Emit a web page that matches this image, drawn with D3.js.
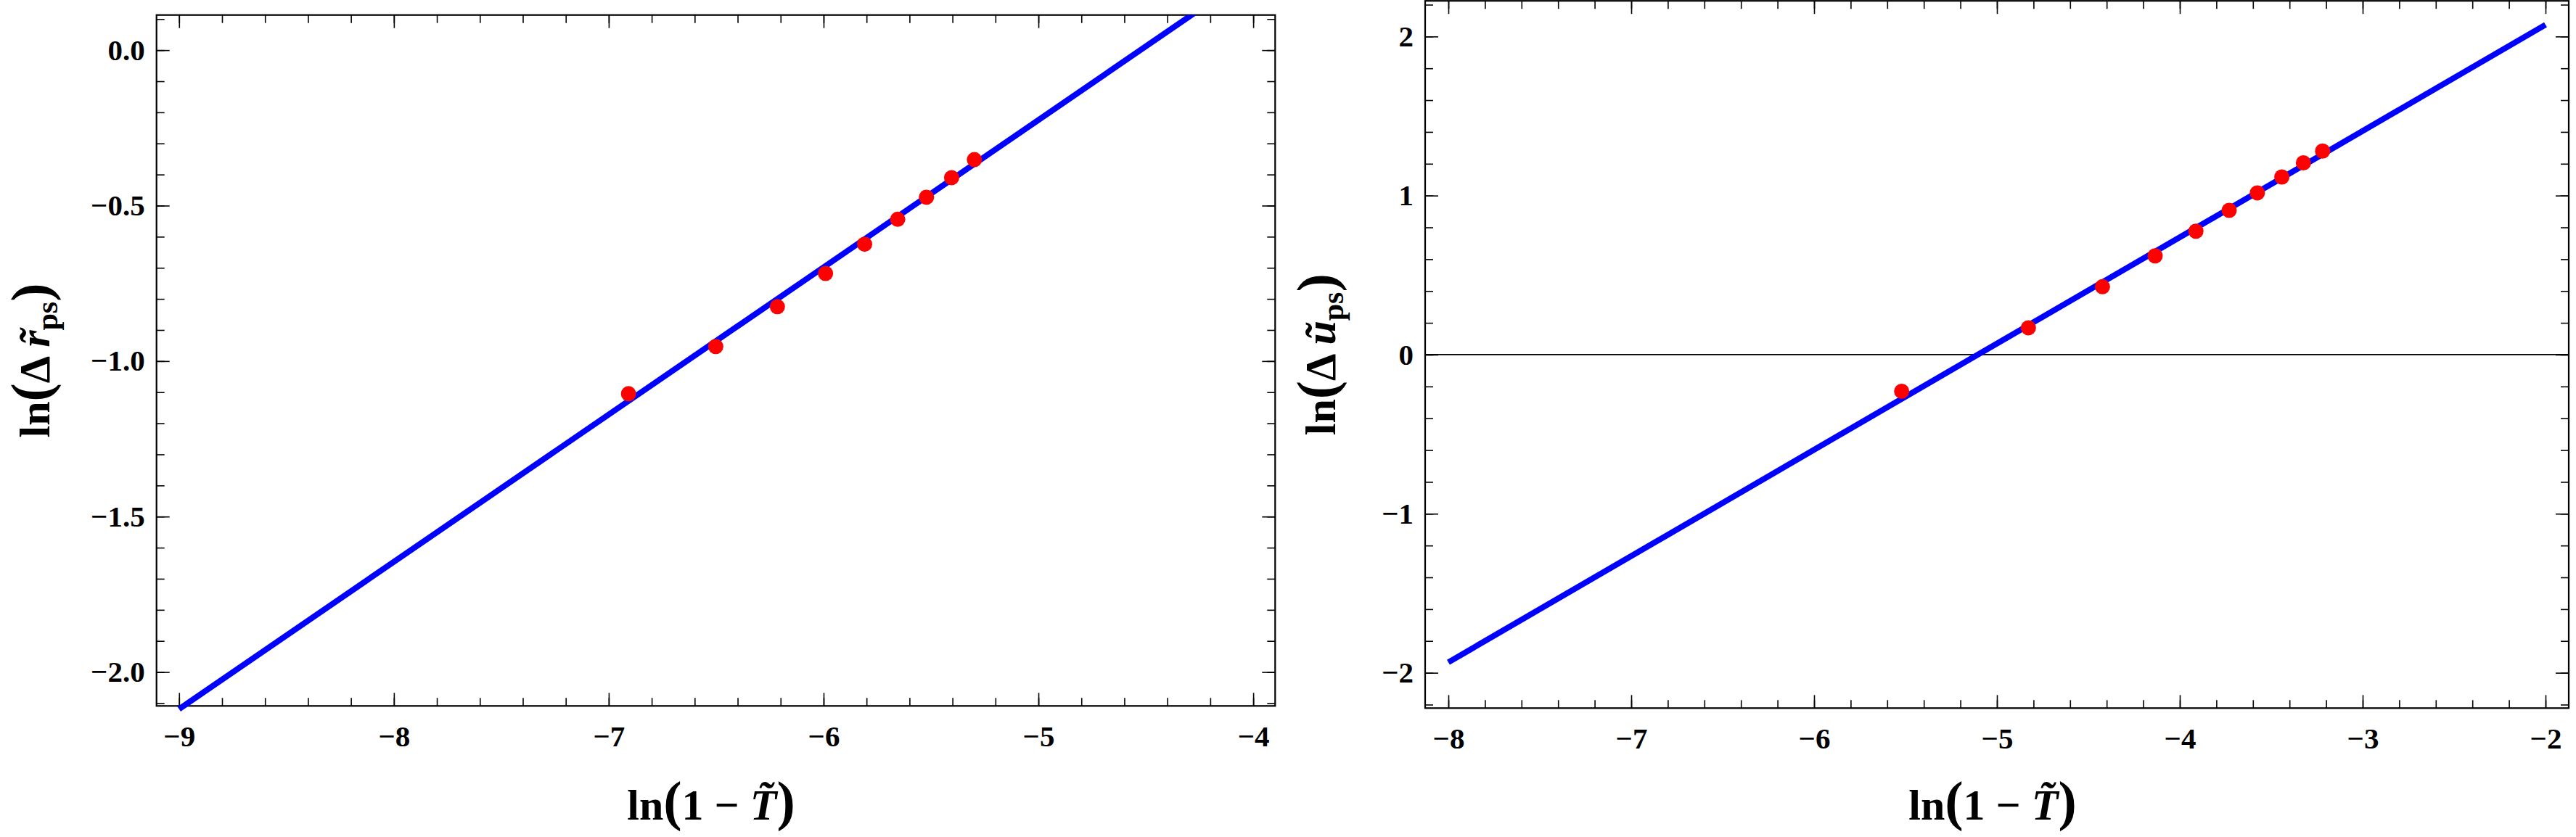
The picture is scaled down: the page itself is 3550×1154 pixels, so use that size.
<!DOCTYPE html>
<html>
<head>
<meta charset="utf-8">
<script src="https://cdn.jsdelivr.net/npm/d3@7"></script>
<style>
  html, body { margin: 0; padding: 0; background: #fff; }
  svg { display: block; }
  text { font-family: "Liberation Serif", "Times New Roman", serif; font-weight: bold; }
</style>
</head>
<body>
<svg id="chart" width="3550" height="1154"></svg>
<script>
// left panel: ln(Δ r_ps) against ln(1 - T)
const leftX = [-6.908, -6.502, -6.215, -5.991, -5.809, -5.655, -5.521, -5.404, -5.298];
const leftY = [-1.105, -0.953, -0.825, -0.718, -0.624, -0.544, -0.473, -0.410, -0.352];
const leftFitX = [-9.0, -4.0];
const leftFitY = [-2.119, 0.249];
const leftXTicks = [-9, -8, -7, -6, -5, -4];
const leftYTicks = [-2.0, -1.5, -1.0, -0.5, 0.0];

// right panel: ln(Δ u_ps) against ln(1 - T)
const rightX = [-5.521, -4.828, -4.423, -4.135, -3.912, -3.730, -3.576, -3.442, -3.324, -3.219];
const rightY = [-0.23, 0.169, 0.427, 0.621, 0.776, 0.907, 1.017, 1.117, 1.206, 1.28];
const rightFitX = [-8.0, -2.0];
const rightFitY = [-1.934, 2.074];
const rightXTicks = [-8, -7, -6, -5, -4, -3, -2];
const rightYTicks = [-2, -1, 0, 1, 2];

const svg = d3.select("#chart");
svg.append("rect").attr("width", 3550).attr("height", 1154).attr("fill", "#fff");

// minor tick positions that fall inside the frame
function minors(domain, step) {
  const lo = Math.ceil(domain[0] / step - 1e-6), hi = Math.floor(domain[1] / step + 1e-6);
  return d3.range(lo, hi + 1).map(i => +(i * step).toFixed(4));
}

function drawPanel(p) {
  const x = d3.scaleLinear().domain(p.xDomain).range([p.left, p.right]);
  const y = d3.scaleLinear().domain(p.yDomain).range([p.bottom, p.top]);
  const g = svg.append("g");
  const xMinor = minors(p.xDomain, 0.2);
  const yMinor = minors(p.yDomain, p.yStep);

  // ticks on all four sides, pointing inward
  const sides = [
    {make: () => d3.axisBottom(x), tr: `translate(0,${p.bottom})`, major: p.xTicks, minor: xMinor, fmt: p.xFmt, isX: true},
    {make: () => d3.axisTop(x), tr: `translate(0,${p.top})`, major: p.xTicks, minor: xMinor, fmt: null, isX: true},
    {make: () => d3.axisLeft(y), tr: `translate(${p.left},0)`, major: p.yTicks, minor: yMinor, fmt: p.yFmt, isX: false},
    {make: () => d3.axisRight(y), tr: `translate(${p.right},0)`, major: p.yTicks, minor: yMinor, fmt: null, isX: false}
  ];
  sides.forEach(a => {
    const minorAx = a.make().tickValues(a.minor).tickFormat("").tickSizeInner(-11).tickSizeOuter(0);
    const gm = g.append("g").attr("transform", a.tr).call(minorAx);
    gm.select(".domain").remove();
    gm.selectAll("line").attr("stroke", "#000").attr("stroke-width", 1.6);

    const majorAx = a.make().tickValues(a.major).tickSizeInner(-18).tickSizeOuter(0)
      .tickPadding(a.isX ? 27 : 16)
      .tickFormat(a.fmt ? a.fmt : "");
    const ga = g.append("g").attr("transform", a.tr).call(majorAx);
    ga.select(".domain").remove();
    ga.selectAll("line").attr("stroke", "#000").attr("stroke-width", 1.6);
    ga.attr("font-size", 41).attr("font-family", '"Liberation Serif", serif');
    ga.selectAll("text").attr("fill", "#000").style("font-weight", "bold");
  });

  g.append("rect")
    .attr("x", p.left).attr("y", p.top)
    .attr("width", p.right - p.left).attr("height", p.bottom - p.top)
    .attr("fill", "none").attr("stroke", "#000").attr("stroke-width", 2.2);

  if (p.zeroLine) {
    g.append("line")
      .attr("x1", p.left).attr("x2", p.right)
      .attr("y1", y(0)).attr("y2", y(0))
      .attr("stroke", "#000").attr("stroke-width", 1.8);
  }

  const clipId = "clip" + p.id;
  svg.append("clipPath").attr("id", clipId).append("rect")
    .attr("x", p.left).attr("y", p.top)
    .attr("width", p.right - p.left).attr("height", p.bottom - p.top + 30);

  const fit = p.fitX.map((v, i) => [v, p.fitY[i]]);
  g.append("path")
    .datum(fit)
    .attr("clip-path", `url(#${clipId})`)
    .attr("d", d3.line().x(d => x(d[0])).y(d => y(d[1])))
    .attr("fill", "none").attr("stroke", "#0000ff").attr("stroke-width", 8);

  const pts = p.px.map((v, i) => [v, p.py[i]]);
  g.selectAll(".pt").data(pts).enter().append("circle")
    .attr("class", "pt")
    .attr("cx", d => x(d[0])).attr("cy", d => y(d[1]))
    .attr("r", 10.5).attr("fill", "#ff0000");

  // x label
  const xl = svg.append("text")
    .attr("x", p.xLabelX).attr("y", 1130)
    .attr("text-anchor", "middle").attr("font-size", 60).attr("fill", "#000");
  xl.append("tspan").text("ln");
  xl.append("tspan").attr("font-size", 76).text("(");
  xl.append("tspan").text("1 \u2212 ");
  xl.append("tspan").attr("font-style", "italic").text("T\u0303");
  xl.append("tspan").attr("font-size", 76).text(")");

  // y label
  const yl = svg.append("text")
    .attr("transform", `translate(${p.yLabelX},${(p.top + p.bottom) / 2}) rotate(-90)`)
    .attr("text-anchor", "middle").attr("font-size", 60).attr("fill", "#000");
  yl.append("tspan").text("ln");
  yl.append("tspan").attr("font-size", 76).text("(");
  yl.append("tspan").text("\u0394 ");
  yl.append("tspan").attr("font-style", "italic").text(p.yVar + "\u0303");
  yl.append("tspan").attr("font-size", 42).attr("dy", 11).text("ps");
  yl.append("tspan").attr("font-size", 76).attr("dy", -11).text(")");
}

drawPanel({
  id: "L",
  left: 215.7, right: 1757.3, top: 20.7, bottom: 973.3,
  xDomain: [-9.105, -3.898], yDomain: [-2.109, 0.113], yStep: 0.1,
  xTicks: leftXTicks, yTicks: leftYTicks,
  xFmt: d3.format("d"), yFmt: d3.format(".1f"),
  fitX: leftFitX, fitY: leftFitY, px: leftX, py: leftY,
  zeroLine: false, xLabelX: 980, yLabelX: 68, yVar: "r"
});

drawPanel({
  id: "R",
  left: 1964, right: 3540, top: 1.2, bottom: 976.3,
  xDomain: [-8.127, -1.873], yDomain: [-2.222, 2.224], yStep: 0.2,
  xTicks: rightXTicks, yTicks: rightYTicks,
  xFmt: d3.format("d"), yFmt: d3.format("d"),
  fitX: rightFitX, fitY: rightFitY, px: rightX, py: rightY,
  zeroLine: true, xLabelX: 2746, yLabelX: 1840, yVar: "u"
});
</script>
</body>
</html>
